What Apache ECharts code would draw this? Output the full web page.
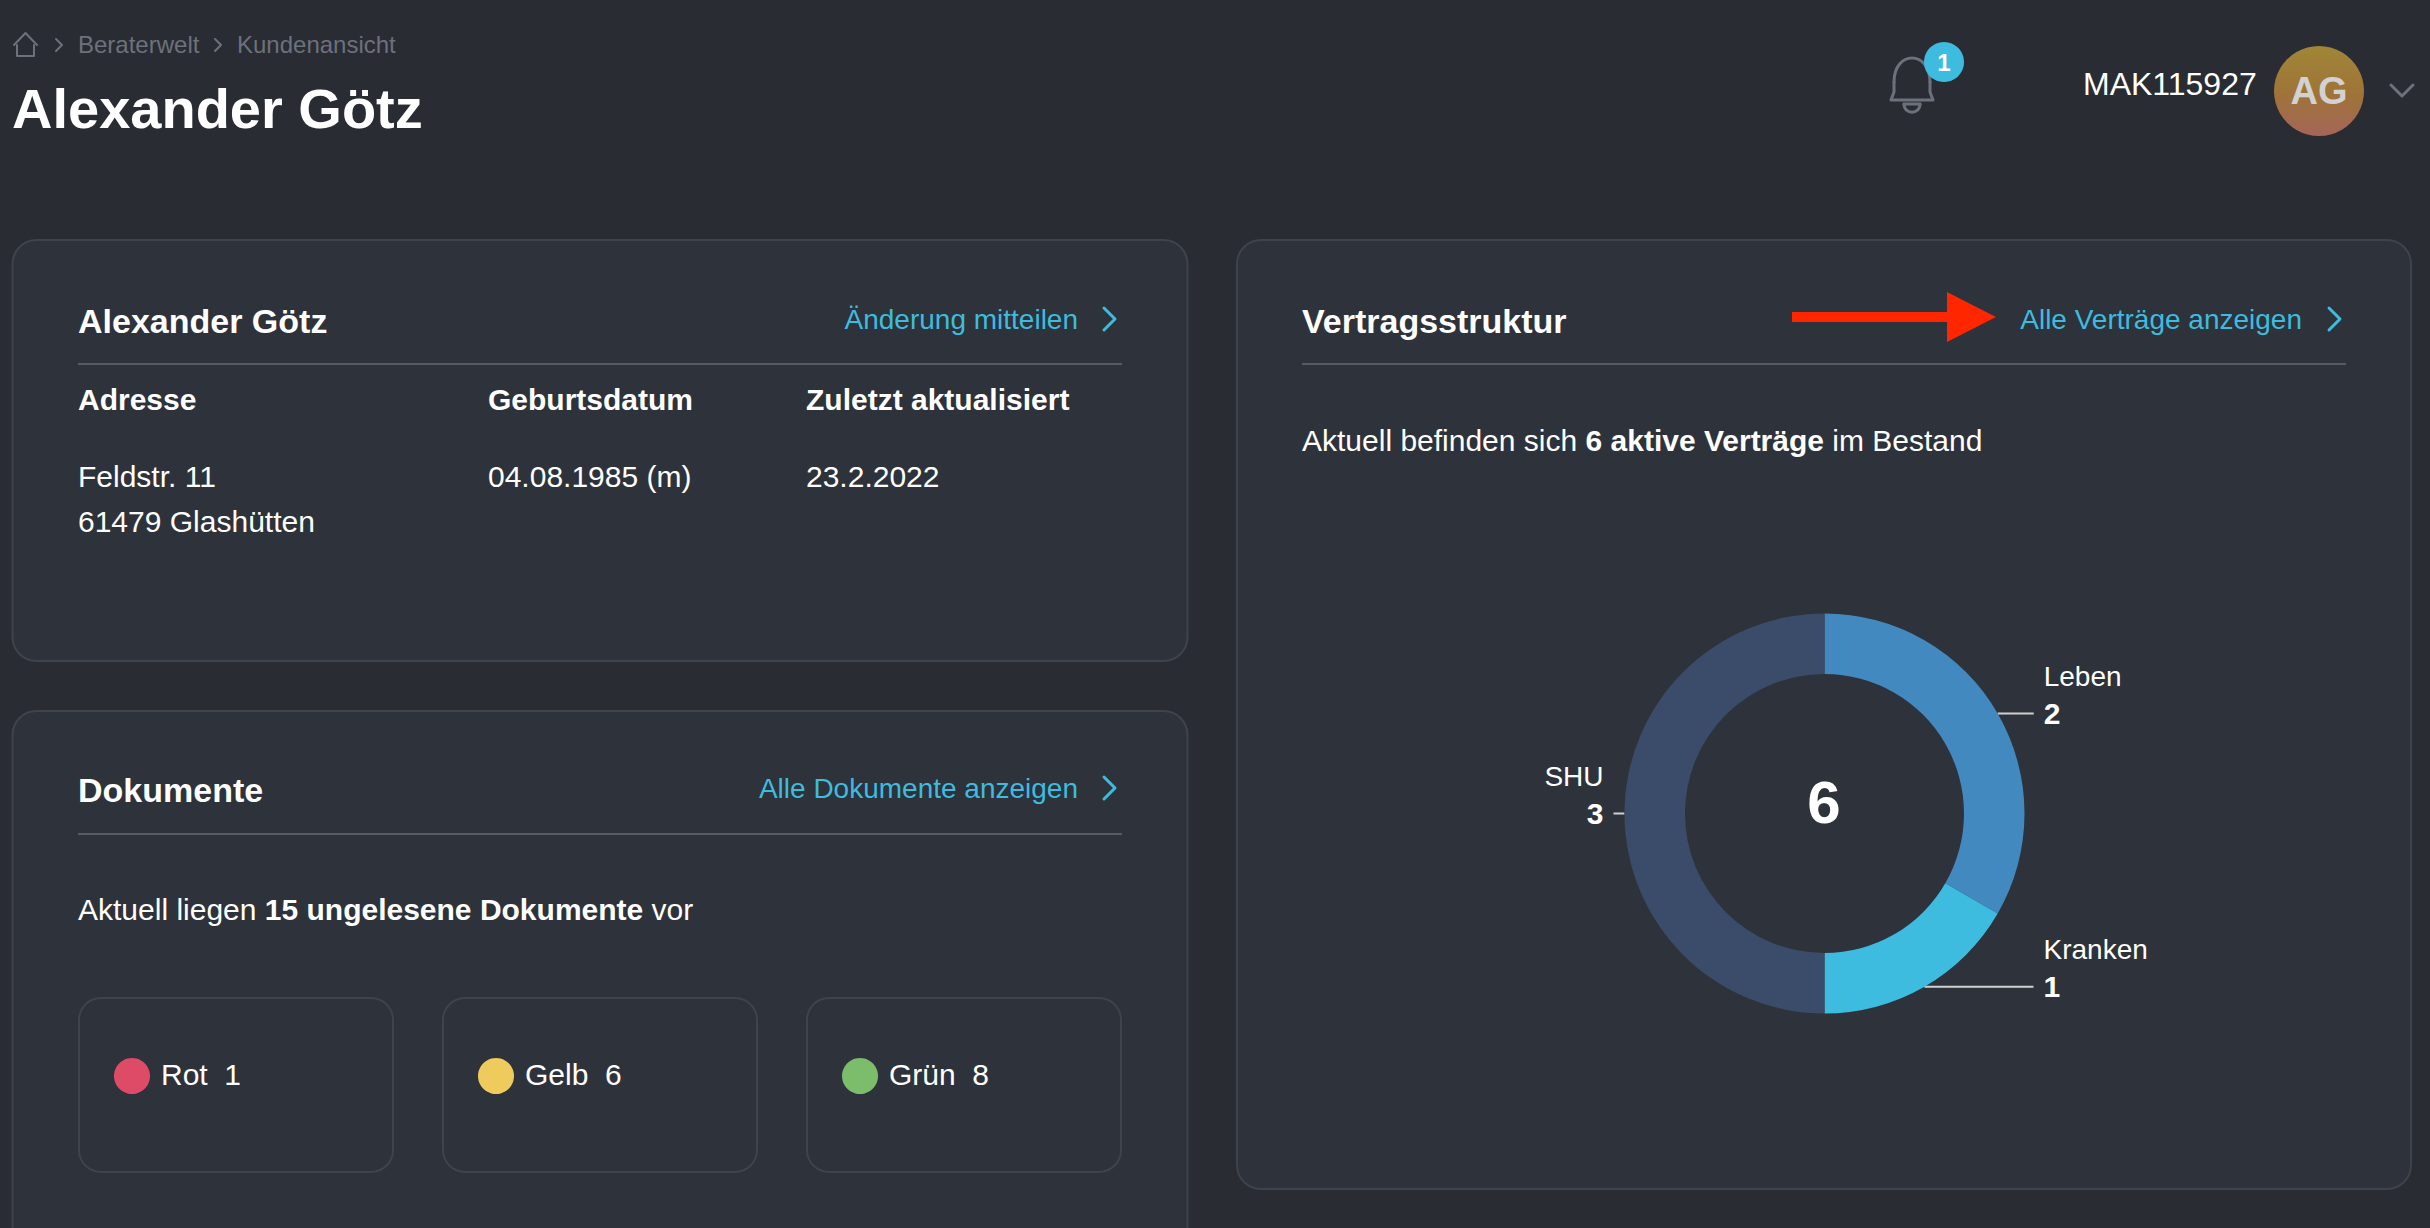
<!DOCTYPE html>
<html>
<head>
<meta charset="utf-8">
<style>
  html, body { margin: 0; padding: 0; background: #292c32; overflow: hidden; }
  #chart { width: 2430px; height: 1228px; }
</style>
<script src="https://cdn.jsdelivr.net/npm/echarts@6/dist/echarts.min.js"></script>
</head>
<body>
<div id="chart"></div>
<script>
const contractNames = ['Leben', 'Kranken', 'SHU']
const contractCounts = [2, 1, 3]
const contractColors = ['#4289bf', '#3dbcdf', '#3a4c69']
// how far each label line runs out from the ring
const labelLineLengths = [36, 109, 11]

const docLabels = ['Rot', 'Gelb', 'Grün']
const docCounts = [1, 6, 8]
const docColors = ['#dd4b66', '#eecb5c', '#7cbd6c']

const crumbs = ['Beraterwelt', 'Kundenansicht']
const addressLines = ['Feldstr. 11', '61479 Glashütten']

const sum = (arr) => arr.reduce((acc, v) => acc + v, 0)

const FONT = '"Liberation Sans", Arial, sans-serif'
const WHITE = '#ffffff'
const LINK = '#3dbcdf'
const MUTED = '#6d717b'
const BORDER = '#3f434b'
const CARD = '#2e323a'

const text = (x, y, str, opts = {}) => ({
  type: 'text',
  x,
  y,
  silent: true,
  z: 5,
  style: {
    text: str,
    fill: opts.fill || WHITE,
    font: `${opts.weight || 'normal'} ${opts.size || 30}px ${FONT}`,
    align: opts.align || 'left',
    verticalAlign: 'middle',
    rich: {
      b: { fontFamily: FONT, fontWeight: 'bold', fontSize: opts.size || 30, fill: WHITE }
    }
  }
})

const card = (x, y, width, height, r, fill) => ({
  type: 'rect',
  silent: true,
  z: 1,
  shape: { x, y, width, height, r },
  style: { fill, stroke: BORDER, lineWidth: 2 }
})

const rule = (x1, x2, y) => ({
  type: 'line',
  silent: true,
  z: 2,
  shape: { x1, y1: y, x2, y2: y },
  style: { stroke: '#575b63', lineWidth: 2 }
})

const stroked = (points, color, lineWidth) => ({
  type: 'polyline',
  silent: true,
  z: 5,
  shape: { points },
  style: { stroke: color, lineWidth, fill: null, lineCap: 'round', lineJoin: 'round' }
})

const curve = (x1, y1, cpx1, cpy1, cpx2, cpy2, x2, y2, color, lineWidth) => ({
  type: 'bezierCurve',
  silent: true,
  z: 5,
  shape: { x1, y1, x2, y2, cpx1, cpy1, cpx2, cpy2 },
  style: { stroke: color, lineWidth, fill: null, lineCap: 'round' }
})

const chevron = (x, y, h, w, color, lineWidth) =>
  stroked([[x, y - h], [x + w, y], [x, y + h]], color, lineWidth)

const docBoxes = docLabels.flatMap((label, i) => {
  const left = [79, 443, 807][i]
  return [
    card(left, 998, 314, 174, 22, 'transparent'),
    { type: 'circle', silent: true, z: 5, shape: { cx: left + 53, cy: 1076, r: 18 }, style: { fill: docColors[i] } },
    text(left + 82, 1074, `${label}  ${docCounts[i]}`)
  ]
})

const graphics = [
  // page header
  stroked([[14, 45], [25.5, 33], [37, 45]], MUTED, 2),
  stroked([[17, 45], [17, 56], [34, 56], [34, 45]], MUTED, 2),
  chevron(56, 45, 6, 6, MUTED, 2),
  text(78, 44, crumbs[0], { fill: MUTED, size: 24 }),
  chevron(215, 45, 6, 6, MUTED, 2),
  text(237, 44, crumbs[1], { fill: MUTED, size: 24 }),
  text(12, 108, 'Alexander Götz', { size: 56, weight: 'bold' }),

  // bell and user
  curve(1894, 82, 1894, 50, 1930, 50, 1930, 82, MUTED, 3),
  stroked([[1894, 82], [1894, 92], [1891, 100], [1933, 100], [1930, 92], [1930, 82]], MUTED, 3),
  curve(1904, 104, 1904, 115, 1920, 115, 1920, 104, MUTED, 3),
  stroked([[1904, 104], [1920, 104]], MUTED, 3),
  { type: 'circle', silent: true, z: 6, shape: { cx: 1944, cy: 62, r: 20 }, style: { fill: LINK } },
  { ...text(1944, 62, '1', { size: 24, weight: 'bold', align: 'center' }), z: 7 },
  text(2083, 84, 'MAK115927', { size: 32 }),
  {
    type: 'circle',
    silent: true,
    z: 5,
    shape: { cx: 2319, cy: 91, r: 45 },
    style: {
      fill: new echarts.graphic.LinearGradient(0, 0, 0, 1, [
        { offset: 0, color: '#a08636' },
        { offset: 0.55, color: '#9f7339' },
        { offset: 1, color: '#a5655a' }
      ])
    }
  },
  { ...text(2319, 91, 'AG', { size: 38, weight: 'bold', align: 'center', fill: '#d2d2d2' }), z: 6 },
  stroked([[2391, 85], [2402, 96], [2413, 85]], MUTED, 3),

  // customer card
  card(12.5, 240, 1175, 421, 24, CARD),
  text(78, 321, 'Alexander Götz', { size: 34, weight: 'bold' }),
  text(1078, 319, 'Änderung mitteilen', { fill: LINK, align: 'right', size: 28 }),
  chevron(1104, 319, 11, 11, LINK, 3),
  rule(78, 1122, 364),
  text(78, 399, 'Adresse', { weight: 'bold' }),
  text(488, 399, 'Geburtsdatum', { weight: 'bold' }),
  text(806, 399, 'Zuletzt aktualisiert', { weight: 'bold' }),
  text(78, 476, addressLines[0]),
  text(78, 521, addressLines[1]),
  text(488, 476, '04.08.1985 (m)'),
  text(806, 476, '23.2.2022'),

  // documents card
  card(12.5, 711, 1175, 620, 24, CARD),
  text(78, 790, 'Dokumente', { size: 34, weight: 'bold' }),
  text(1078, 788, 'Alle Dokumente anzeigen', { fill: LINK, align: 'right', size: 28 }),
  chevron(1104, 788, 11, 11, LINK, 3),
  rule(78, 1122, 834),
  text(78, 909, `Aktuell liegen {b|${sum(docCounts)} ungelesene Dokumente} vor`),
  ...docBoxes,

  // contracts card
  card(1237, 240, 1174, 949, 24, CARD),
  text(1302, 321, 'Vertragsstruktur', { size: 34, weight: 'bold' }),
  text(2302, 319, 'Alle Verträge anzeigen', { fill: LINK, align: 'right', size: 28 }),
  chevron(2329, 319, 11, 11, LINK, 3),
  rule(1302, 2346, 364),
  text(1302, 440, `Aktuell befinden sich {b|${sum(contractCounts)} aktive Verträge} im Bestand`),
  {
    type: 'polygon',
    silent: true,
    z: 5,
    shape: { points: [[1792, 312], [1947, 312], [1947, 292], [1996, 317], [1947, 342], [1947, 322], [1792, 322]] },
    style: { fill: '#ff2600' }
  },
  { ...text(1824, 802, String(sum(contractCounts)), { size: 60, weight: 'bold', align: 'center' }), z: 6 }
]

const option = {
  backgroundColor: '#292c32',
  animation: false,
  graphic: { elements: graphics },
  series: [
    {
      type: 'pie',
      z: 4,
      center: [1824.5, 813.5],
      radius: [139.5, 200],
      startAngle: 90,
      clockwise: true,
      avoidLabelOverlap: false,
      silent: true,
      label: {
        show: true,
        position: 'outside',
        distanceToLabelLine: 10,
        color: WHITE,
        fontFamily: FONT,
        fontSize: 28,
        lineHeight: 37,
        // the number sits on the line, the name above it
        padding: [0, 0, 37, 0],
        formatter: '{n|{b}}\n{v|{c}}',
        rich: {
          n: { fontFamily: FONT, fontSize: 28, lineHeight: 37, color: WHITE },
          v: { fontFamily: FONT, fontSize: 30, fontWeight: 'bold', lineHeight: 37, color: WHITE }
        }
      },
      labelLine: {
        show: true,
        length: 0,
        lineStyle: { color: '#d0d0d0', width: 2 }
      },
      data: contractNames.map((name, i) => ({
        name,
        value: contractCounts[i],
        itemStyle: { color: contractColors[i] },
        labelLine: { length2: labelLineLengths[i] }
      }))
    }
  ]
}

const chart = echarts.init(document.getElementById('chart'), null, { renderer: 'svg', width: 2430, height: 1228 })
chart.setOption(option)
</script>
</body>
</html>
